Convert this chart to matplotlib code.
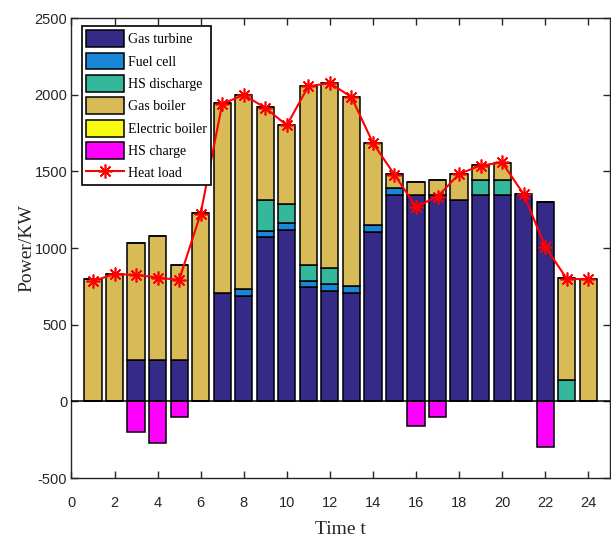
import numpy as np
import matplotlib.pyplot as plt

plt.rcParams['axes.unicode_minus'] = False

# Hourly heat dispatch (kW)
hours = np.arange(1, 25)
gas_turbine = [0, 0, 269, 269, 269, 0, 705, 690, 1072, 1118, 745, 720,
               705, 1107, 1346, 1346, 1346, 1314, 1346, 1346, 1351, 1303, 0, 0]
fuel_cell = [0, 0, 0, 0, 0, 0, 0, 43, 40, 44, 43, 44,
             48, 44, 44, 0, 0, 0, 0, 0, 0, 0, 0, 0]
hs_discharge = [0, 0, 0, 0, 0, 0, 0, 0, 201, 124, 102, 104,
                0, 0, 0, 0, 0, 0, 98, 98, 0, 0, 136, 0]
gas_boiler = [797, 831, 762, 810, 619, 1231, 1239, 1265, 605, 517, 1167, 1211,
              1234, 536, 91, 85, 98, 169, 98, 109, 0, 0, 667, 797]
electric_boiler = [0] * 24
hs_charge = [0, 0, -203, -271, -101, 0, 0, 0, 0, 0, 0, 0,
             0, 0, 0, -164, -99, 0, 0, 0, 0, -299, 0, 0]
heat_load = [785, 830, 825, 807, 792, 1225, 1940, 1998, 1915, 1800, 2055, 2075,
             1985, 1685, 1478, 1270, 1335, 1483, 1538, 1558, 1351, 1009, 800, 795]

series = [
    ('Gas turbine', gas_turbine, '#352a87'),
    ('Fuel cell', fuel_cell, '#1a86d8'),
    ('HS discharge', hs_discharge, '#35b79c'),
    ('Gas boiler', gas_boiler, '#d8ba57'),
    ('Electric boiler', electric_boiler, '#f8fa0f'),
]

serif = 'Liberation Serif'
sans = 'Liberation Sans'
axis_col = '#262626'

fig = plt.figure(figsize=(6.11, 5.38), dpi=100)
ax = fig.add_axes([0.117, 0.1115, 0.881, 0.855])

handles = []
bottom = np.zeros(len(hours))
for name, vals, col in series:
    vals = np.asarray(vals, dtype=float)
    h = ax.bar(hours, vals, width=0.8, bottom=bottom, color=col,
               edgecolor='black', linewidth=1.1, label=name, zorder=2)
    handles.append(h)
    bottom += vals
h = ax.bar(hours, hs_charge, width=0.8, color='#ff00ff', edgecolor='black',
           linewidth=1.1, label='HS charge', zorder=2)
handles.append(h)
ax.axhline(0, color='black', linewidth=1.1, zorder=3)

line, = ax.plot(hours, heat_load, color='red', linewidth=1.5, marker=(8, 2, 0),
                markersize=10, markeredgewidth=1.2, label='Heat load', zorder=4)
handles.append(line)

ax.set_xlim(0, 25)
ax.set_ylim(-500, 2500)
ax.set_xticks(np.arange(0, 25, 2))
ax.set_yticks(np.arange(-500, 2501, 500))
ax.tick_params(direction='in', length=5, width=1, colors=axis_col,
               top=True, right=True, labelsize=10.5)
ax.tick_params(axis='x', pad=13)
ax.tick_params(axis='y', pad=3)
for lbl in ax.get_xticklabels() + ax.get_yticklabels():
    lbl.set_fontfamily(sans)
for sp in ax.spines.values():
    sp.set_color(axis_col)
    sp.set_linewidth(1)

ax.set_xlabel('Time t', fontfamily=serif, fontsize=14, color=axis_col, labelpad=8)
ax.set_ylabel('Power/KW', fontfamily=serif, fontsize=14, color=axis_col, labelpad=-1)

leg = ax.legend(handles=handles, loc='upper left', bbox_to_anchor=(0.0195, 0.9826),
                borderaxespad=0, prop={'family': serif, 'size': 10},
                handlelength=2.7, handleheight=1.5, labelspacing=0.39,
                handletextpad=0.3, borderpad=0.3, fancybox=False, framealpha=1)
leg.get_frame().set_edgecolor('black')
leg.get_frame().set_linewidth(1.2)

fig.savefig('out.png', dpi=100)
